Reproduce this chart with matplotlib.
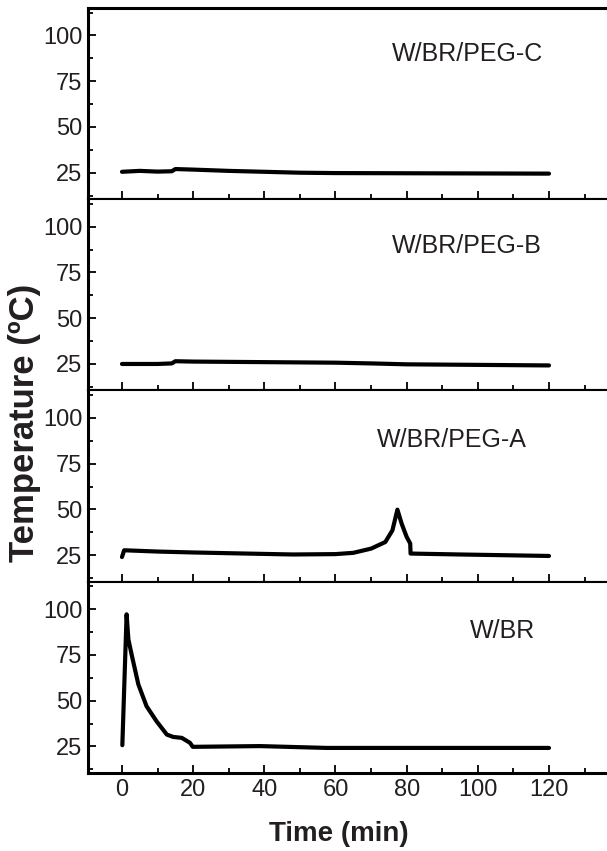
import numpy as np
import matplotlib.pyplot as plt
from matplotlib.ticker import MultipleLocator

plt.rcParams['font.family'] = ['Liberation Sans', 'DejaVu Sans']

# data (time in min, temperature in ºC)
t_c = [0, 5, 10, 14, 15, 20, 30, 40, 50, 60, 80, 100, 120]
temp_c = [25.5, 26.0, 25.6, 25.8, 27.0, 26.7, 26.0, 25.5, 25.0, 24.8, 24.7, 24.6, 24.5]

t_b = [0, 10, 14, 15, 20, 40, 60, 70, 80, 100, 120]
temp_b = [25.0, 25.0, 25.3, 26.5, 26.3, 26.0, 25.7, 25.3, 24.8, 24.5, 24.2]

t_a = [0, 0.6, 10, 20, 35, 48, 60, 65, 70, 74, 76, 77.4, 78.6, 80, 81, 81.1, 95, 120]
temp_a = [24.0, 27.7, 27.0, 26.5, 25.9, 25.4, 25.6, 26.3, 28.6, 32.2, 38.6, 49.9, 42.2, 35.0, 31.4, 25.9, 25.4, 24.6]

t_w = [0.1, 1.3, 1.8, 2.7, 4.6, 6.9, 9.7, 12.6, 14.4, 16.8, 19.1, 19.9, 38.8, 57.6, 120]
temp_w = [25.7, 97.2, 83.5, 75.3, 58.9, 47.0, 38.8, 31.5, 30.2, 29.7, 27.0, 24.8, 25.2, 24.2, 24.2]

panels = [
    ('W/BR/PEG-C', t_c, temp_c, 97, 90),
    ('W/BR/PEG-B', t_b, temp_b, 97, 89.5),
    ('W/BR/PEG-A', t_a, temp_a, 92.7, 88),
    ('W/BR', t_w, temp_w, 107, 88),
]

txt = '#231f20'
W, H = 607, 851
fig = plt.figure(figsize=(W / 100, H / 100), dpi=100)

left, right = 88, 607
top, bottom = 8, 773
ph = (bottom - top) / 4

axes = []
for k, (name, t, temp, lx, ly) in enumerate(panels):
    y0 = top + k * ph
    ax = fig.add_axes([left / W, 1 - (y0 + ph) / H, (right - left) / W, ph / H])
    ax.plot(t, temp, color='black', lw=3.0, solid_capstyle='round', solid_joinstyle='round')
    ax.text(lx, ly, name, ha='center', va='center', fontsize=18, color=txt)
    ax.set_xlim(-9.55, 136.3)
    ax.set_ylim(10.5, 115)
    ax.xaxis.set_major_locator(MultipleLocator(20))
    ax.xaxis.set_minor_locator(MultipleLocator(10))
    ax.yaxis.set_major_locator(MultipleLocator(25))
    ax.yaxis.set_minor_locator(MultipleLocator(12.5))
    ax.tick_params(which='both', direction='in', top=False, right=False, width=1.3)
    ax.tick_params(which='major', length=6, labelsize=17, pad=4, labelcolor=txt)
    ax.tick_params(which='minor', length=3.5)
    ax.spines['right'].set_visible(False)
    ax.spines['left'].set_linewidth(2.2)
    ax.spines['top'].set_linewidth(2.2 if k == 0 else 1.5)
    ax.spines['bottom'].set_linewidth(2.2 if k == 3 else 1.5)
    ax.set_yticks([25, 50, 75, 100])
    if k < 3:
        ax.tick_params(axis='x', labelbottom=False)
    axes.append(ax)

axes[-1].set_xticks([0, 20, 40, 60, 80, 100, 120])
fig.text(339 / W, 1 - 834 / H, 'Time (min)', ha='center', va='center',
         fontsize=20, fontweight='bold', color=txt)

fig.text(25 / W, 1 - 423 / H, 'Temperature (ºC)', rotation=90,
         ha='center', va='center', fontsize=25, fontweight='bold', color=txt)

fig.savefig('out.png', dpi=100)
